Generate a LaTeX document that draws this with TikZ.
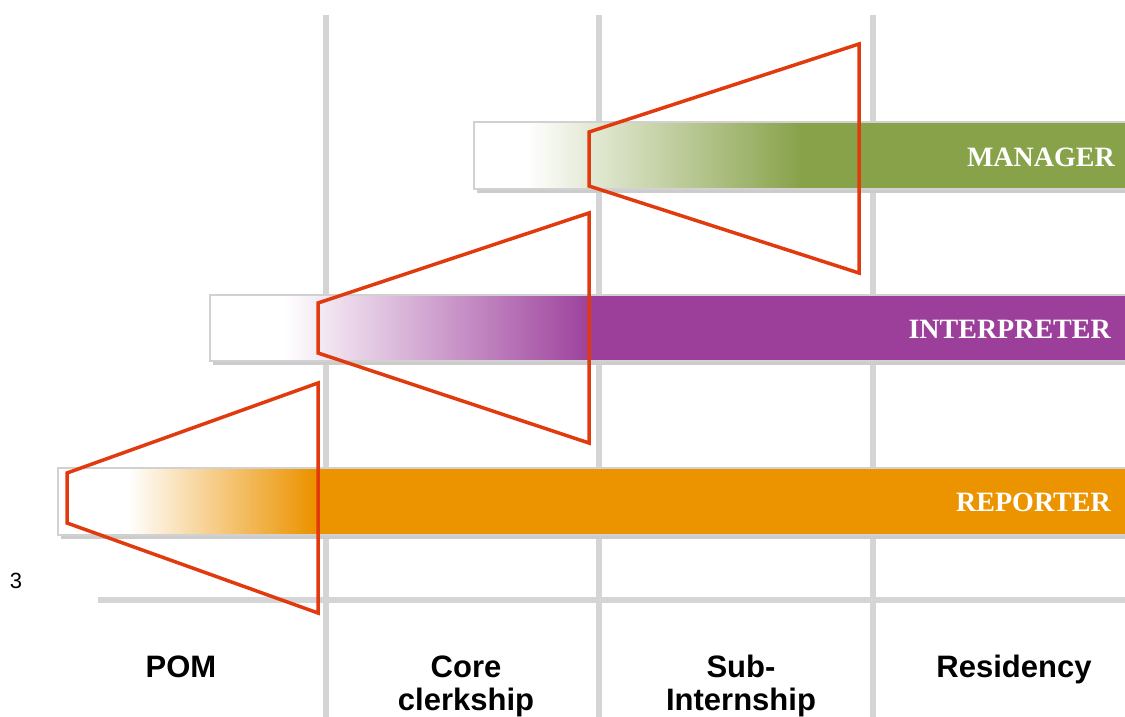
\documentclass[tikz,border=0pt]{standalone}
\usepackage{fontspec}
\setmainfont{Liberation Serif}
\setsansfont{Liberation Sans}
\definecolor{mgreen}{HTML}{88A24A}
\definecolor{mpurple}{HTML}{9C3F9B}
\definecolor{morange}{HTML}{EC9300}
\definecolor{mred}{HTML}{E13A0F}
\definecolor{grid}{HTML}{D5D5D5}
\tikzset{
  gridline/.style={line width=6pt, draw=grid},
  barframe/.style={draw=black!18, line width=1.2pt},
  barshadow/.style={fill=black!20},
  barlabel/.style={font=\bfseries\fontsize{28}{30}\selectfont, text=white, anchor=base east, inner sep=0pt},
  axislabel/.style={font=\sffamily\bfseries\fontsize{31}{34}\selectfont, anchor=base, inner sep=0pt},
  trap/.style={draw=mred, line width=3.5pt, line join=miter},
}
\begin{document}
\begin{tikzpicture}[x=1pt,y=-1pt]
\useasboundingbox (0,0) rectangle (1125,717);
% grid
\draw[gridline] (98,600) -- (1125,600);
\foreach \gx in {326,599,873}{
  \draw[gridline] (\gx,15) -- (\gx,717);
}
% MANAGER bar
\fill[barshadow] (477,126) rectangle (1126,193);
\fill[white] (474,122) rectangle (1125,189);
\shade[left color=white, right color=mgreen] (527,122) rectangle (801,189);
\fill[mgreen] (800,122) rectangle (1125,189);
\draw[barframe] (474,122) rectangle (1126,189);
\node[barlabel] (manager) at (1115,166) {MANAGER};
% INTERPRETER bar
\fill[barshadow] (213,299) rectangle (1126,365);
\fill[white] (210,295) rectangle (1125,361);
\shade[left color=white, right color=mpurple] (285,295) rectangle (593,361);
\fill[mpurple] (592,295) rectangle (1125,361);
\draw[barframe] (210,295) rectangle (1126,361);
\node[barlabel] (interpreter) at (1111,338) {INTERPRETER};
% REPORTER bar
\fill[barshadow] (61,472) rectangle (1126,539);
\fill[white] (58,468) rectangle (1125,535);
\shade[left color=white, right color=morange] (128,468) rectangle (313,535);
\fill[morange] (312,468) rectangle (1125,535);
\draw[barframe] (58,468) rectangle (1126,535);
\node[barlabel] (reporter) at (1111,511) {REPORTER};
% trapezoids
\draw[trap] (67,473) -- (318,383) -- (318,613) -- (67,523) -- cycle;
\draw[trap] (318,303) -- (589,213) -- (589,443) -- (318,353) -- cycle;
\draw[trap] (589,132) -- (859,44) -- (859,273) -- (589,186) -- cycle;
% page number
\node[font=\sffamily\fontsize{22}{24}\selectfont, anchor=base, inner sep=0pt] (pnum) at (16,588) {3};
% axis labels
\node[axislabel] (pom) at (181,677) {POM};
\node[axislabel] (core) at (466,677) {Core};
\node[axislabel] (clerk) at (466,710) {clerkship};
\node[axislabel] (sub) at (741,677) {Sub-};
\node[axislabel] (intern) at (741,710) {Internship};
\node[axislabel] (res) at (1014,677) {Residency};
\end{tikzpicture}
\end{document}
